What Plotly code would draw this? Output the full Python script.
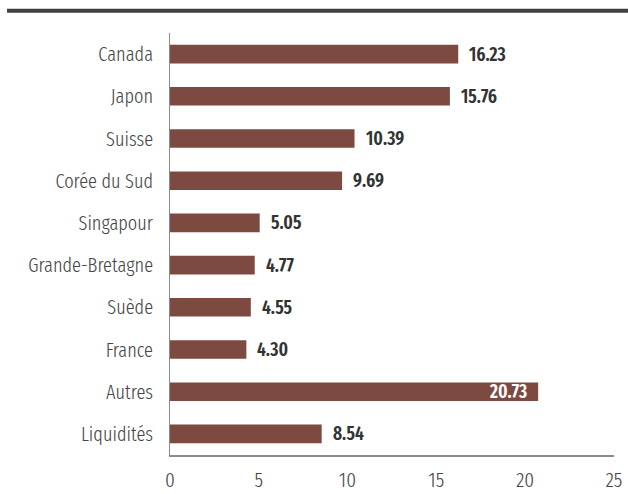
import plotly.graph_objects as go

categories = ["Canada", "Japon", "Suisse", "Corée du Sud", "Singapour",
              "Grande-Bretagne", "Suède", "France", "Autres", "Liquidités"]
values = [16.23, 15.76, 10.39, 9.69, 5.05, 4.77, 4.55, 4.30, 20.73, 8.54]
labels = ["16.23", "15.76", "10.39", "9.69", "5.05", "4.77", "4.55", "4.30", "20.73", "8.54"]
inside = [False, False, False, False, False, False, False, False, True, False]
x_ticks = [0, 5, 10, 15, 20, 25]

FONT = "Fira Sans Extra Condensed, Fira Sans Condensed, DejaVu Sans Condensed, sans-serif"
BAR = "#7d4a41"

fig = go.Figure()
fig.add_trace(go.Bar(
    x=values, y=categories, orientation="h",
    marker=dict(color=BAR, line=dict(width=0)),
    width=0.44, hoverinfo="skip",
))

for cat, v, lab, ins in zip(categories, values, labels, inside):
    fig.add_annotation(
        x=v, y=cat, xref="x", yref="y", text=lab,
        showarrow=False,
        xanchor="right" if ins else "left",
        xshift=-9 if ins else 9,
        font=dict(family=FONT, size=19, weight=600,
                  color="#ffffff" if ins else "#333333"),
    )

# thick rule at top
fig.add_shape(type="line", xref="paper", yref="paper",
              x0=-0.367, x1=1.04, y0=1.053, y1=1.053,
              line=dict(color="#404040", width=4))

fig.update_layout(
    width=628, height=494,
    margin=dict(l=170, r=14, t=33, b=39, autoexpand=False),
    paper_bgcolor="white", plot_bgcolor="white",
    font=dict(family=FONT, size=20, color="#454545"),
    showlegend=False,
    bargap=0.56,
)
fig.update_xaxes(
    range=[0, 25], tickvals=x_ticks, ticktext=[str(t) for t in x_ticks],
    showgrid=False, zeroline=False, automargin=False,
    showline=True, linecolor="#8c8c8c", linewidth=2,
    ticks="outside", ticklen=0, ticklabelstandoff=5,
    tickfont=dict(family=FONT, size=21, weight=300, color="#454545"),
    fixedrange=True,
)
fig.update_yaxes(
    categoryorder="array", categoryarray=categories[::-1],
    range=[-0.5, 9.5], automargin=False,
    showgrid=False, zeroline=False,
    showline=True, linecolor="#8c8c8c", linewidth=1,
    ticks="outside", ticklen=0, ticklabelstandoff=12,
    tickfont=dict(family=FONT, size=20, weight=300, color="#454545"),
    fixedrange=True,
)

fig.write_html("out.html")
